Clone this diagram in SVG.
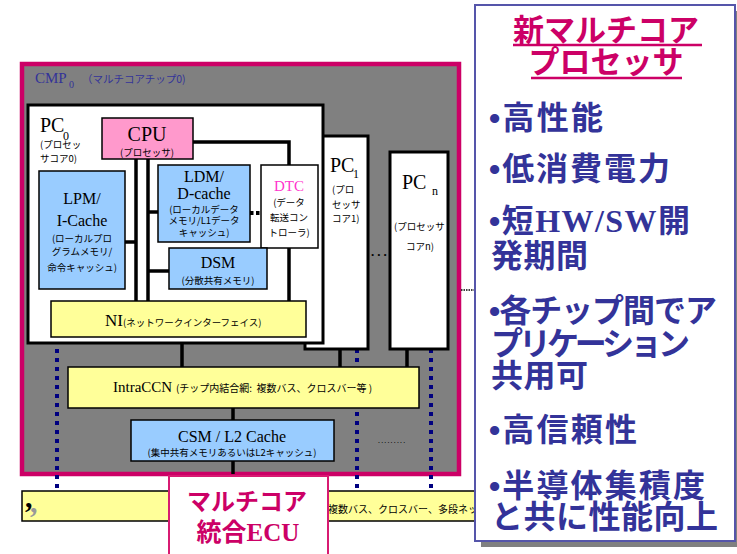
<svg xmlns="http://www.w3.org/2000/svg" width="737" height="554" viewBox="0 0 737 554">
<style>
.ser{font-family:"Liberation Serif",serif;}
.jp{font-family:"Noto Sans CJK JP",sans-serif;}
.sm{font-family:"Noto Sans CJK JP",sans-serif;font-size:9.5px;fill:#000;}
.ln{stroke:#000;stroke-width:3.5;fill:none;}
.box{stroke:#000;stroke-width:1.5;}
.blue{fill:#99ccff;}
.yel{fill:#ffff99;}
.nav{stroke:#000080;stroke-width:4;stroke-dasharray:4 5;fill:none;}
.pt{font-family:"Noto Sans CJK JP",sans-serif;font-weight:bold;font-size:32px;fill:#333399;}
.bul{font-family:"Liberation Sans",sans-serif;}
</style>
<rect width="737" height="554" fill="#fff"/>

<!-- bottom bar -->
<g id="bottom-bar">
<rect x="22" y="491" width="460" height="30" class="yel" stroke="#000" stroke-width="1.5"/>
<text x="30" y="512" class="ser" font-size="30" font-weight="bold" fill="#999">,</text>
<text x="25" y="507" class="ser" font-size="30" font-weight="bold" fill="#000">,</text>
<text x="328" y="513" class="jp" font-size="10">複数バス、クロスバー、多段ネット</text>
</g>

<!-- CMP -->
<g id="cmp">
<rect x="22" y="64" width="437" height="410" fill="#808080" stroke="#cc0066" stroke-width="4.5"/>
<text x="35" y="83" class="ser" font-size="15" fill="#333399">CMP</text>
<text x="69" y="88" class="ser" font-size="10" fill="#333399">0</text>
<text x="82" y="83" class="jp" font-size="10.5" fill="#333399">（マルチコアチップ0)</text>
</g>

<!-- navy dotted lines -->
<g id="connectors">
<line x1="57" y1="349" x2="57" y2="488" class="nav"/>
<line x1="357" y1="349" x2="357" y2="491" class="nav"/>
<line x1="431" y1="349" x2="431" y2="488" class="nav"/>
<line x1="461" y1="290" x2="475" y2="290" stroke="#000" stroke-width="1.5" stroke-dasharray="1.5 1"/>
<!-- black links -->
<line x1="182" y1="337" x2="182" y2="367" class="ln"/>
<line x1="340" y1="349" x2="340" y2="367" class="ln"/>
<line x1="407" y1="349" x2="407" y2="367" class="ln"/>
<line x1="233" y1="408" x2="233" y2="420" class="ln"/>
<line x1="233" y1="461" x2="233" y2="474" class="ln"/>
</g>

<!-- PCn -->
<g id="pcn">
<rect x="390" y="152" width="58" height="197" fill="#fff" stroke="#000" stroke-width="3"/>
<text x="402" y="189" class="ser" font-size="20">PC</text>
<text x="432" y="195" class="ser" font-size="12">n</text>
<text x="394" y="230" class="sm">(プロセッサ</text>
<text x="406" y="250" class="sm">コアn)</text>
</g>

<!-- PC1 -->
<g id="pc1">
<rect x="305" y="136" width="63" height="213" fill="#fff" stroke="#000" stroke-width="3"/>
<text x="330" y="172" class="ser" font-size="20">PC</text>
<text x="353" y="178" class="ser" font-size="12">1</text>
<text x="332" y="193" class="sm">(プロ</text>
<text x="332" y="208" class="sm">セッサ</text>
<text x="332" y="222" class="sm">コア1)</text>
</g>
<text x="371" y="256" class="ser" font-size="13" font-weight="bold" letter-spacing="3">...</text>

<!-- PC0 -->
<g id="pc0">
<rect x="28" y="105" width="295" height="238" fill="#fff" stroke="#000" stroke-width="3"/>
<text x="40" y="132" class="ser" font-size="20">PC</text>
<text x="63" y="140" class="ser" font-size="12">0</text>
<text x="40" y="148" class="sm">(プロセッ</text>
<text x="40" y="162" class="sm">サコア0)</text>
</g>

<!-- internal links of PC0 -->
<g id="pc0-links">
<line x1="136" y1="159" x2="136" y2="301" class="ln"/>
<line x1="148" y1="159" x2="148" y2="301" class="ln"/>
<line x1="125" y1="242" x2="136" y2="242" class="ln"/>
<line x1="148" y1="212" x2="158" y2="212" class="ln"/>
<line x1="148" y1="271" x2="169" y2="271" class="ln"/>
<polyline points="193,142 289,142 289,165" class="ln"/>
<line x1="289" y1="248" x2="289" y2="301" class="ln"/>
<line x1="250" y1="213" x2="261" y2="213" stroke="#000" stroke-width="4" stroke-dasharray="3.5 2.5"/>
</g>

<g id="cpu">
<rect x="102" y="118" width="91" height="41" fill="#ff99cc" class="box"/>
<text x="147" y="141" class="ser" font-size="20" text-anchor="middle">CPU</text>
<text x="147" y="156" class="sm" text-anchor="middle">(プロセッサ)</text>
</g>

<g id="lpm">
<rect x="39" y="171" width="86" height="118" class="blue box"/>
<text x="82" y="204" class="ser" font-size="16" text-anchor="middle">LPM/</text>
<text x="82" y="226" class="ser" font-size="16" text-anchor="middle">I-Cache</text>
<text x="82" y="242" class="sm" text-anchor="middle">(ローカルプロ</text>
<text x="82" y="255" class="sm" text-anchor="middle">グラムメモリ/</text>
<text x="82" y="271" class="sm" text-anchor="middle">命令キャッシュ)</text>
</g>

<g id="ldm">
<rect x="158" y="165" width="92" height="77" class="blue box"/>
<text x="204" y="182" class="ser" font-size="16" text-anchor="middle">LDM/</text>
<text x="204" y="199" class="ser" font-size="16" text-anchor="middle">D-cache</text>
<text x="204" y="213" class="sm" text-anchor="middle">(ローカルデータ</text>
<text x="204" y="224" class="sm" text-anchor="middle">メモリ/L1データ</text>
<text x="204" y="236" class="sm" text-anchor="middle">キャッシュ)</text>
</g>

<g id="dtc">
<rect x="261" y="165" width="57" height="83" fill="#fff" class="box"/>
<text x="289" y="191" class="ser" font-size="15" fill="#ff33cc" text-anchor="middle">DTC</text>
<text x="289" y="206" class="sm" text-anchor="middle">(データ</text>
<text x="289" y="221" class="sm" text-anchor="middle">転送コン</text>
<text x="289" y="236" class="sm" text-anchor="middle">トローラ)</text>
</g>

<g id="dsm">
<rect x="169" y="248" width="98" height="41" class="blue box"/>
<text x="218" y="268" class="ser" font-size="16" text-anchor="middle">DSM</text>
<text x="218" y="284" class="sm" text-anchor="middle">(分散共有メモリ)</text>
</g>

<g id="ni">
<rect x="51" y="301" width="255" height="36" class="yel box"/>
<text x="105" y="326" class="ser" font-size="17">NI<tspan class="jp" font-size="9.5">(ネットワークインターフェイス)</tspan></text>
</g>

<g id="intraccn">
<rect x="68" y="367" width="351" height="41" class="yel box"/>
<text x="113" y="392" class="ser" font-size="15" xml:space="preserve">IntraCCN <tspan class="jp" font-size="10">(チップ内結合網:  複数バス、クロスバー等 )</tspan></text>
</g>

<g id="csm">
<rect x="131" y="420" width="203" height="41" class="blue box"/>
<text x="232" y="442" class="ser" font-size="16" text-anchor="middle">CSM / L2 Cache</text>
<text x="232" y="456" class="sm" text-anchor="middle">(集中共有メモリあるいはL2キャッシュ)</text>
</g>
<text x="378" y="443" class="jp" font-size="7" letter-spacing="1.2">.........</text>

<!-- ECU box -->
<g id="ecu">
<rect x="169" y="476" width="159" height="90" fill="#fff" stroke="#d81b72" stroke-width="2"/>
<text x="247" y="510" class="jp" font-size="24" font-weight="bold" fill="#cc0066" text-anchor="middle">マルチコア</text>
<text x="248" y="541" class="jp" font-size="25" font-weight="bold" fill="#cc0066" text-anchor="middle">統合<tspan class="ser">ECU</tspan></text>
</g>

<!-- right panel -->
<g id="panel">
<rect x="481" y="11" width="262" height="536" fill="#808080"/>
<rect x="475" y="5" width="260" height="536" fill="#fff" stroke="#5555aa" stroke-width="2"/>
<text x="606" y="41" class="jp" font-size="31" font-weight="bold" fill="#cc0066" text-anchor="middle">新マルチコア</text>
<line x1="513" y1="45" x2="702" y2="45" stroke="#cc0066" stroke-width="2.5"/>
<text x="606" y="73" class="jp" font-size="31" font-weight="bold" fill="#cc0066" text-anchor="middle">プロセッサ</text>
<line x1="531" y1="78" x2="682" y2="78" stroke="#cc0066" stroke-width="2.5"/>

<text x="489" y="129" class="pt" textLength="114" lengthAdjust="spacing"><tspan class="bul">•</tspan>高性能</text>
<text x="489" y="180" class="pt" textLength="181" lengthAdjust="spacing"><tspan class="bul">•</tspan>低消費電力</text>
<text x="489" y="232" class="pt" textLength="201" lengthAdjust="spacing"><tspan class="bul">•</tspan>短<tspan font-family="Liberation Serif, serif">HW/SW</tspan>開</text>
<text x="491" y="267" class="pt" textLength="97" lengthAdjust="spacing">発期間</text>
<text x="489" y="322" class="pt" textLength="228" lengthAdjust="spacing"><tspan class="bul">•</tspan>各チップ間でア</text>
<text x="491" y="355" class="pt" textLength="199" lengthAdjust="spacing">プリケーション</text>
<text x="491" y="387" class="pt" textLength="97" lengthAdjust="spacing">共用可</text>
<text x="489" y="441" class="pt" textLength="148" lengthAdjust="spacing"><tspan class="bul">•</tspan>高信頼性</text>
<text x="489" y="497" class="pt" textLength="216" lengthAdjust="spacing"><tspan class="bul">•</tspan>半導体集積度</text>
<text x="491" y="528" class="pt" textLength="227" lengthAdjust="spacing">と共に性能向上</text>
</g>
</svg>
